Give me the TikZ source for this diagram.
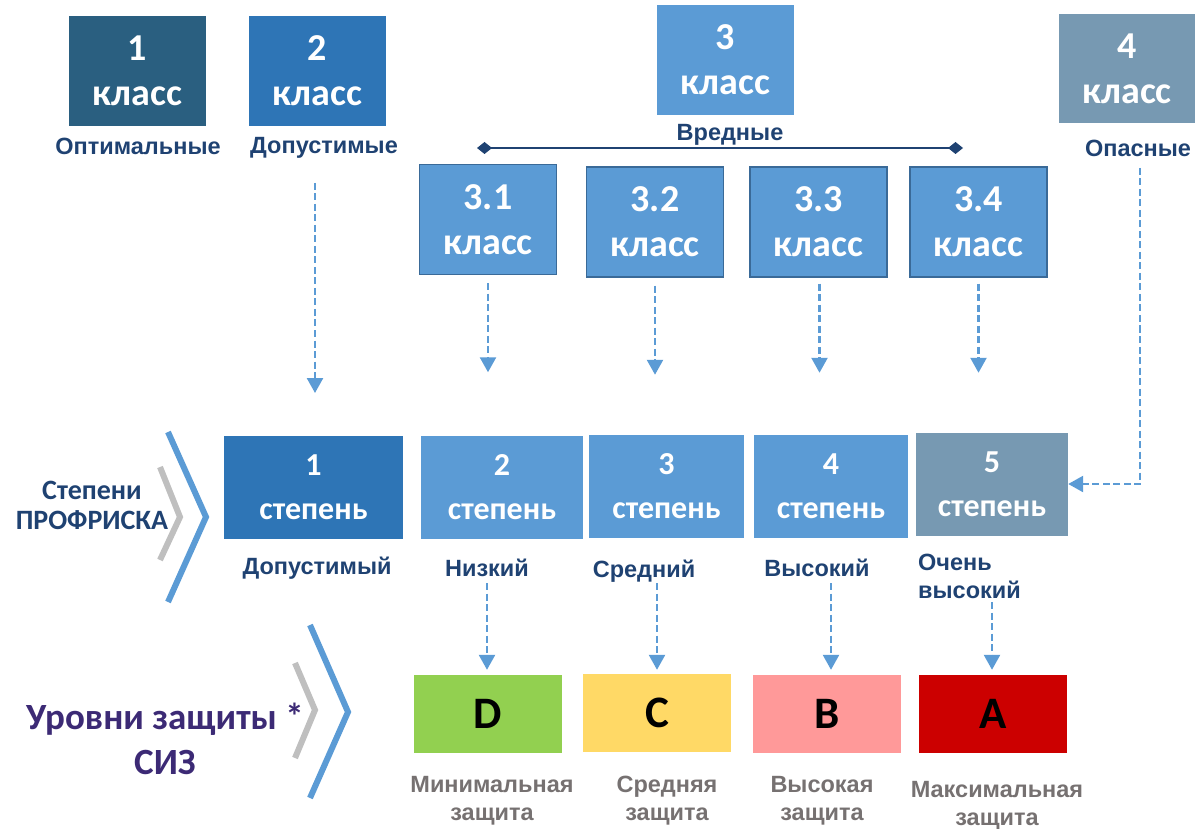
\documentclass[tikz,border=0pt]{standalone}
\usepackage{fontspec}
\newfontfamily\calfont{Carlito}
\newfontfamily\arfont{Liberation Sans}
\usetikzlibrary{arrows.meta,calc}
\definecolor{cone}{HTML}{2A5F80}
\definecolor{ctwo}{HTML}{2E75B6}
\definecolor{cthree}{HTML}{5B9BD5}
\definecolor{cfour}{HTML}{7799B2}
\definecolor{bord}{HTML}{3A6A98}
\definecolor{dblue}{HTML}{1F4272}
\definecolor{purp}{HTML}{3C2A75}
\definecolor{gtext}{HTML}{767171}
\definecolor{chevgray}{HTML}{BFBFBF}
\definecolor{grn}{HTML}{92D050}
\definecolor{yel}{HTML}{FFD966}
\definecolor{pnk}{HTML}{FF9999}
\definecolor{rd}{HTML}{CC0000}
\tikzset{
  kbox/.style={rectangle, inner sep=0pt, text=white, align=center,
    minimum width=137pt, minimum height=110pt,
    font=\calfont\bfseries\fontsize{38}{45}\selectfont},
  subbox/.style={kbox, fill=cthree, draw=bord, line width=1.5pt},
  sbox/.style={rectangle, inner sep=0pt, text=white, align=center,
    minimum height=103pt,
    font=\calfont\bfseries\fontsize{32}{44}\selectfont},
  pbox/.style={rectangle, inner sep=0pt, text=black, align=center,
    minimum width=148pt, minimum height=78pt,
    font=\calfont\bfseries\fontsize{45}{48}\selectfont},
  lbl/.style={inner sep=0pt, text=dblue, align=center,
    font=\arfont\bfseries\fontsize{23.5}{28}\selectfont},
  glbl/.style={inner sep=0pt, text=gtext, align=center,
    font=\arfont\bfseries\fontsize{23.5}{28}\selectfont},
  arr/.style={draw=cthree, line width=2.5pt, dash pattern=on 7pt off 3.5pt,
    -{Triangle[width=16pt,length=15pt,fill=cthree]}},
  chevblue/.style={draw=cthree, line width=6pt, miter limit=10},
  chevgr/.style={draw=chevgray, line width=6pt, miter limit=10},
}
\begin{document}
\begin{tikzpicture}[x=1pt,y=-1pt]
\useasboundingbox (0,0) rectangle (1195,829);

% class boxes
\node[kbox, fill=cone] (k1) at (137.5,71) {1\\класс};
\node[kbox, fill=ctwo] (k2) at (317.5,71) {2\\класс};
\node[kbox, fill=cthree] (k3) at (725.5,60) {3\\класс};
\node[kbox, fill=cfour, minimum width=136pt, minimum height=109pt] (k4) at (1127,68.5) {4\\класс};

\node[lbl] (lo) at (138,146) {Оптимальные};
\node[lbl] (ld) at (324,148) {Допустимые};
\node[lbl] (lv) at (730,135) {Вредные};
\node[lbl] (lop) at (1138,148) {Опасные};

% bracket line
\coordinate (brl) at (477,148);
\coordinate (brr) at (963,148);
\draw[draw=dblue, line width=2.5pt, {Diamond[width=12pt,length=15pt,fill=dblue]}-{Diamond[width=12pt,length=15pt,fill=dblue]}] (brl) -- (brr);

% sub boxes
\node[subbox] (k31) at (488,219.5) {3.1\\класс};
\node[subbox] (k32) at (655,222) {3.2\\класс};
\node[subbox] (k33) at (818.5,222) {3.3\\класс};
\node[subbox] (k34) at (978.5,222) {3.4\\класс};

% stage boxes
\node[sbox, fill=ctwo, minimum width=179pt] (s1) at (313.5,487.5) {1\\степень};
\node[sbox, fill=cthree, minimum width=162pt] (s2) at (502,487.5) {2\\степень};
\node[sbox, fill=cthree, minimum width=155pt] (s3) at (666.5,486) {3\\степень};
\node[sbox, fill=cthree, minimum width=154pt] (s4) at (831,486) {4\\степень};
\node[sbox, fill=cfour, minimum width=152pt] (s5) at (992,484) {5\\степень};

\node[lbl] (t1) at (317,568) {Допустимый};
\node[lbl] (t2) at (487,568) {Низкий};
\node[lbl] (t3) at (644,571) {Средний};
\node[lbl] (t4) at (817,568) {Высокий};
\node[lbl, align=left, anchor=west] (t5) at (918,576) {Очень\\высокий};

% protection boxes
\node[pbox, fill=grn] (pD) at (488,714) {D};
\node[pbox, fill=yel] (pC) at (657,713) {C};
\node[pbox, fill=pnk] (pB) at (827,714) {B};
\node[pbox, fill=rd] (pA) at (993,714) {A};

\node[glbl] (g1) at (492,801) {Минимальная\\защита};
\node[glbl] (g2) at (667,801) {Средняя\\защита};
\node[glbl] (g3) at (822,801) {Высокая\\защита};
\node[glbl] (g4) at (997,806) {Максимальная\\защита};

% left captions
\node[inner sep=0pt, text=dblue, align=center, font=\calfont\bfseries\fontsize{28}{30}\selectfont] (cap1) at (92,505) {Степени\\ПРОФРИСКА};
\node[inner sep=0pt, text=purp, align=center, font=\calfont\bfseries\fontsize{37}{45}\selectfont] (cap2) at (165,739) {Уровни защиты *\\СИЗ};

% chevrons
\draw[chevgr] (160,467) -- (180,517) -- (160,560);
\draw[chevblue] (168,432) -- (206,517) -- (168,602);
\draw[chevgr] (295,663) -- (315,710) -- (295,758);
\draw[chevblue] (310,625) -- (348,712) -- (310,798);

% arrows
\coordinate (dopout) at (315,183);
\draw[arr] (dopout) -- ++(0,210);
\draw[arr] ([yshift=-8pt]k31.south) -- ++(0,89);
\draw[arr] ([yshift=-8pt]k32.south) -- ++(0,89);
\draw[arr] ([yshift=-6pt,xshift=1pt]k33.south) -- ++(0,89);
\draw[arr] ([yshift=-6pt]k34.south) -- ++(0,89);
\coordinate (opout) at (1140,168);
\draw[arr] (opout) |- (s5.east);

\coordinate (lowN) at (487,583);
\coordinate (lowS) at (657,583);
\coordinate (lowV) at (831,583);
\coordinate (lowO) at (992,602);
\draw[arr, shorten >=5pt] (lowN) -- (lowN |- pD.north);
\draw[arr, shorten >=4pt] (lowS) -- (lowS |- pC.north);
\draw[arr, shorten >=5pt] (lowV) -- (lowV |- pB.north);
\draw[arr, shorten >=5pt] (lowO) -- (lowO |- pA.north);
\end{tikzpicture}
\end{document}
